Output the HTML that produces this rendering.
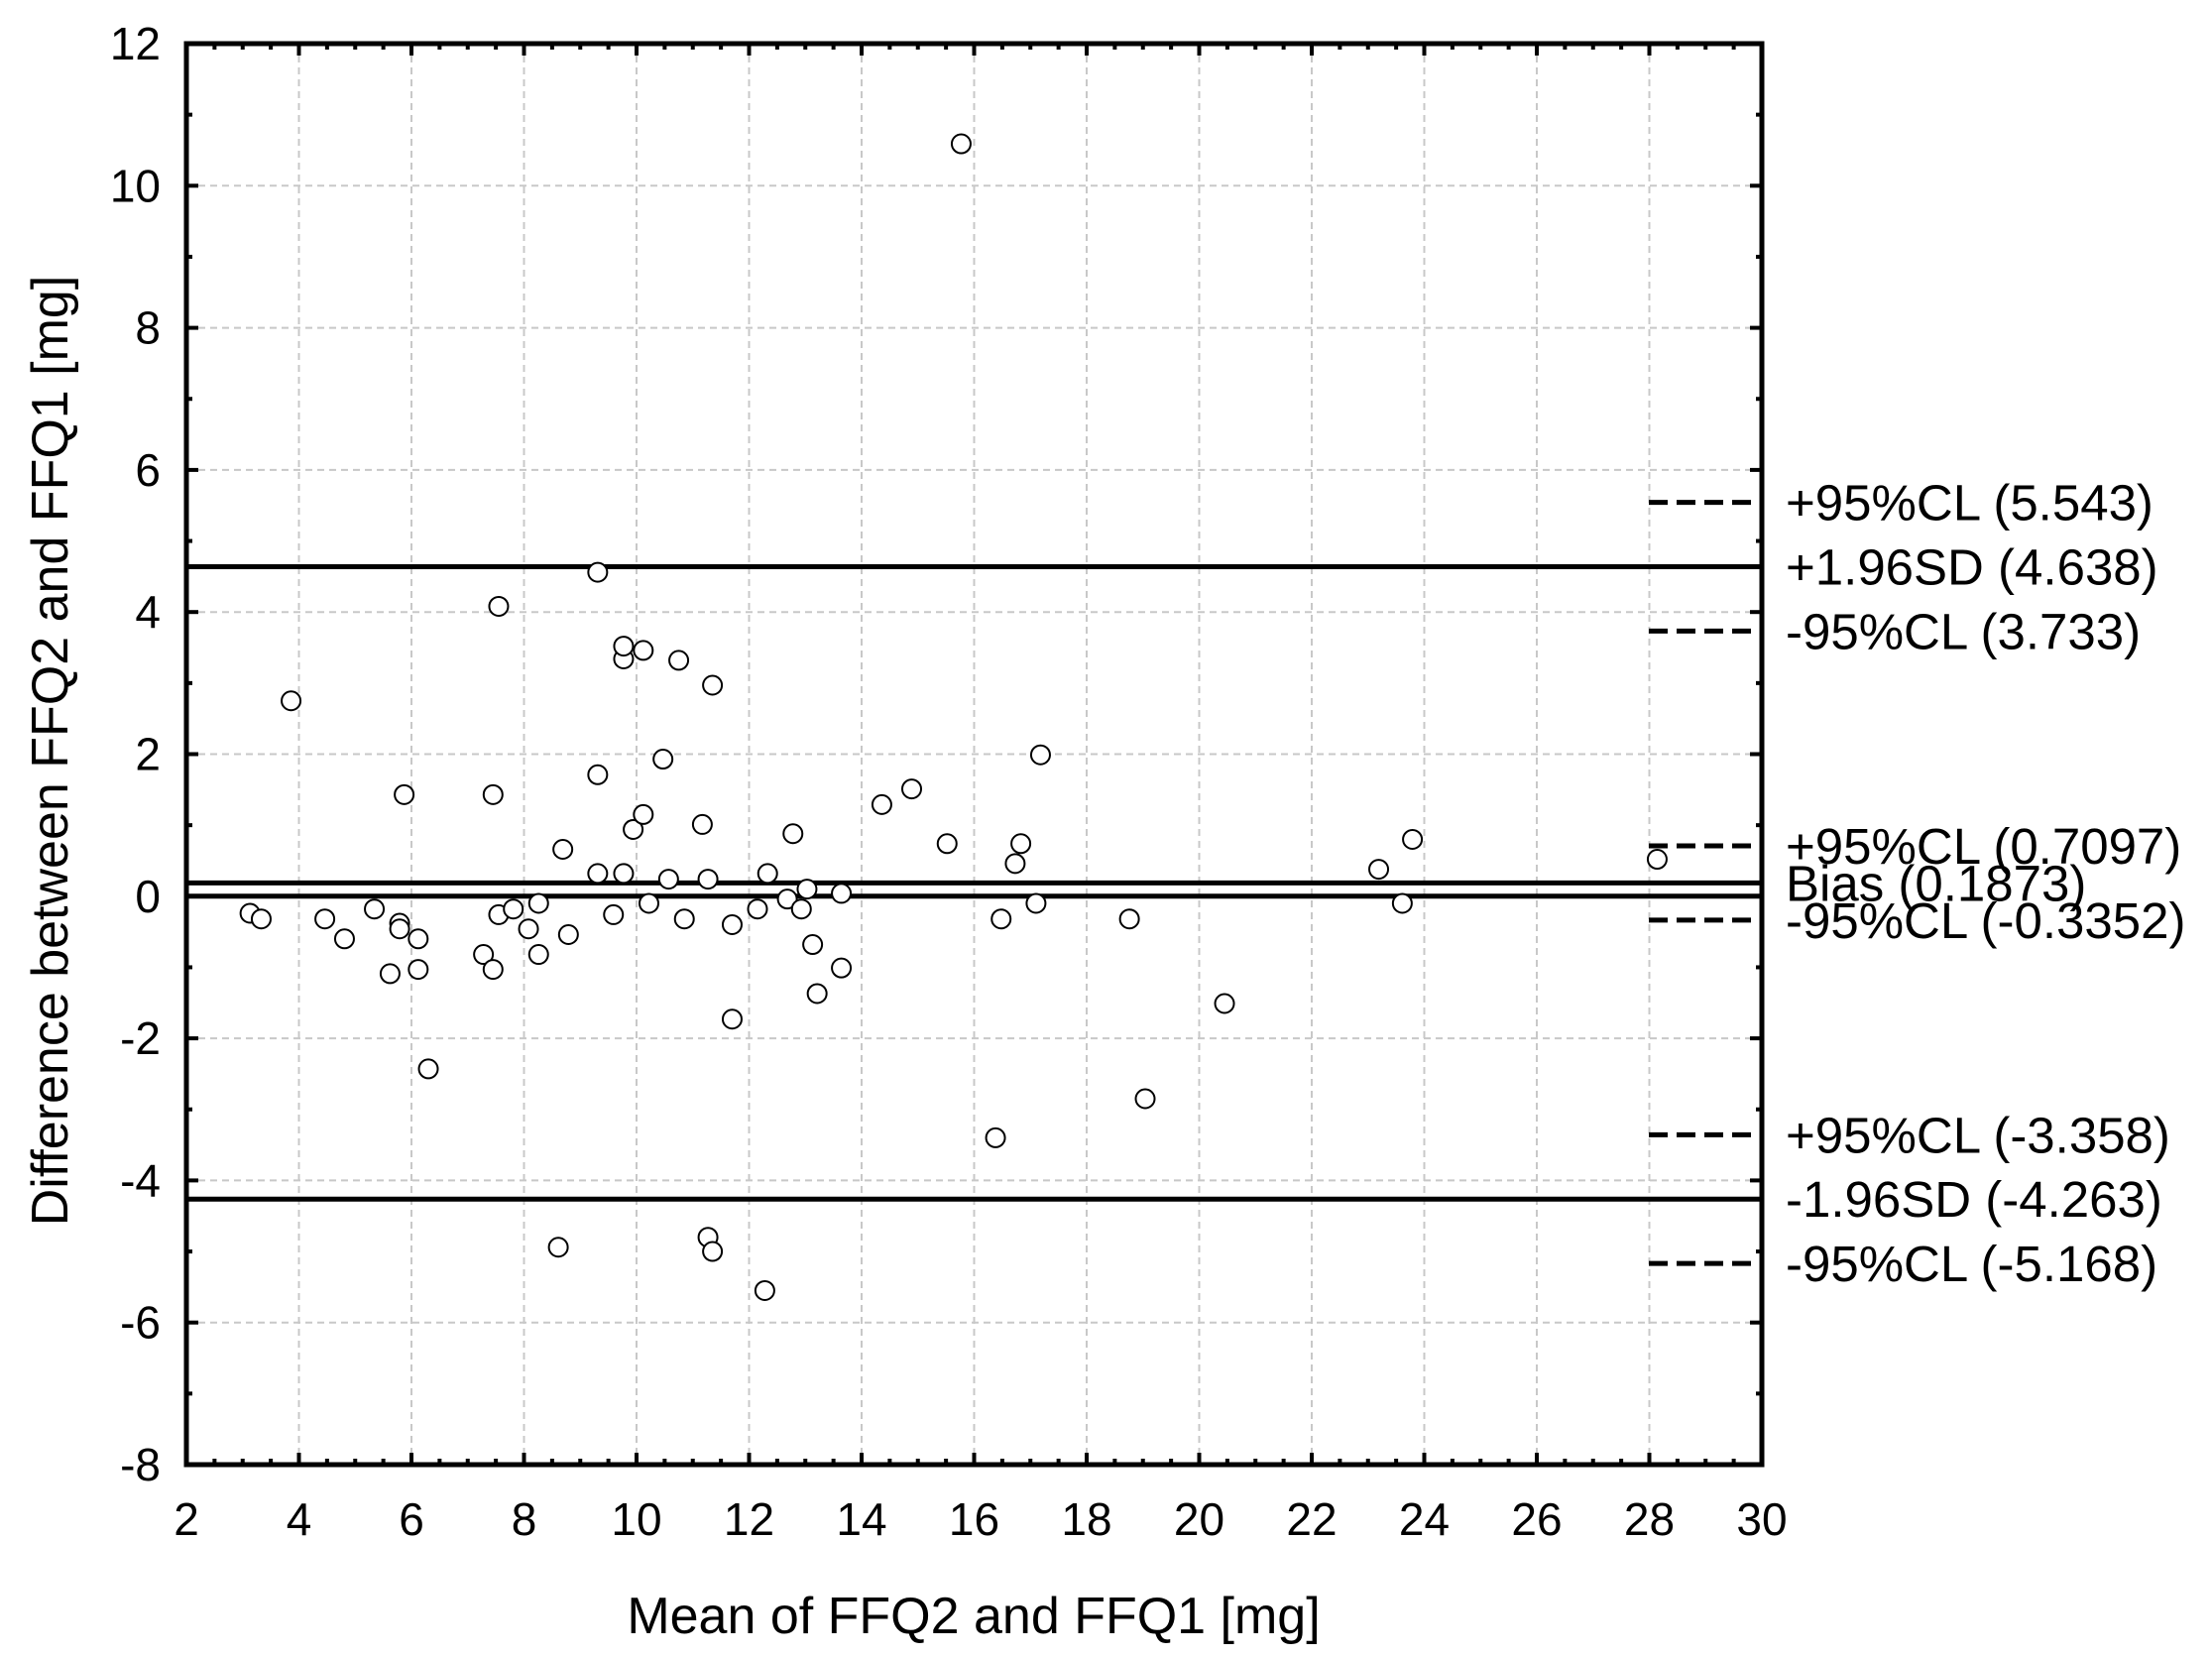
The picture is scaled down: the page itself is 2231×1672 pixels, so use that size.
<!DOCTYPE html>
<html><head><meta charset="utf-8"><style>
html,body{margin:0;padding:0;background:#fff;}
svg{display:block;font-family:"Liberation Sans",Arial,sans-serif;}
</style></head><body>
<svg id="chart" width="2231" height="1672" viewBox="0 0 2231 1672" xmlns="http://www.w3.org/2000/svg"></svg>
<script>
const xs = [3.13,3.33,3.86,4.46,4.81,5.34,5.62,5.79,5.79,5.87,6.12,6.12,6.30,7.28,7.45,7.45,7.55,7.55,7.81,8.08,8.26,8.26,8.61,8.69,8.79,9.31,9.31,9.31,9.59,9.77,9.77,9.77,9.94,10.12,10.12,10.22,10.47,10.57,10.75,10.85,11.17,11.27,11.27,11.35,11.35,11.70,11.70,12.15,12.28,12.33,12.68,12.78,12.93,13.03,13.13,13.21,13.64,13.64,14.36,14.89,15.52,15.77,16.38,16.48,16.73,16.83,17.10,17.18,18.76,19.04,20.45,23.19,23.61,23.79,28.14];
const ys = [-0.24,-0.32,2.75,-0.32,-0.60,-0.18,-1.09,-0.38,-0.46,1.43,-0.60,-1.03,-2.43,-0.82,1.43,-1.03,4.08,-0.26,-0.18,-0.46,-0.10,-0.82,-4.94,0.66,-0.54,4.56,1.71,0.32,-0.26,0.32,3.34,3.52,0.94,3.46,1.15,-0.10,1.93,0.24,3.32,-0.32,1.01,0.24,-4.80,2.97,-5.00,-0.40,-1.73,-0.18,-5.55,0.32,-0.04,0.88,-0.18,0.10,-0.68,-1.37,0.04,-1.01,1.29,1.51,0.74,10.59,-3.40,-0.32,0.46,0.74,-0.10,1.99,-0.32,-2.85,-1.51,0.38,-0.10,0.80,0.52];
const xTicks = [2,4,6,8,10,12,14,16,18,20,22,24,26,28,30];
const yTicks = [-8,-6,-4,-2,0,2,4,6,8,10,12];
const solidLines = [4.638, 0.1873, 0];
const solidNames = ['upper-limit-line','bias-line','zero-line'];
const dashedLines = [5.543, 3.733, 0.7097, -0.3352, -3.358, -5.168];
const annLabels = ['+95%CL (5.543)','+1.96SD (4.638)','-95%CL (3.733)','+95%CL (0.7097)','Bias (0.1873)','-95%CL (-0.3352)','+95%CL (-3.358)','-1.96SD (-4.263)','-95%CL (-5.168)'];
const annYs = [5.543,4.638,3.733,0.7097,0.1873,-0.3352,-3.358,-4.263,-5.168];
const lowerLimit = -4.263;

const L=188,R=1777,T=44,B=1477;
const sx=v=>L+(v-2)*(R-L)/28;
const sy=v=>T+(12-v)*(B-T)/20;
const svg=document.getElementById('chart');
const NS='http://www.w3.org/2000/svg';
function mk(tag,attrs){const e=document.createElementNS(NS,tag);for(const k in attrs)e.setAttribute(k,attrs[k]);svg.appendChild(e);return e;}

xTicks.forEach(v=>{if(v>2&&v<30){const g=mk('line',{x1:sx(v),x2:sx(v),y1:T,y2:B,stroke:'#c8c8c8','stroke-width':2,'stroke-dasharray':'7,5'});

}});
yTicks.forEach(v=>{if(v>-8&&v<12){const g=mk('line',{x1:L,x2:R,y1:sy(v),y2:sy(v),stroke:'#c8c8c8','stroke-width':2,'stroke-dasharray':'7,5'});

}});

for(let v=2;v<=30;v+=0.5){const len=(v%2===0)?12:6;
 const t1=mk('line',{x1:sx(v),x2:sx(v),y1:B,y2:B-len,stroke:'#000','stroke-width':4});
 
 
 const t2=mk('line',{x1:sx(v),x2:sx(v),y1:T,y2:T+len,stroke:'#000','stroke-width':4});
 
 }
for(let v=-8;v<=12;v+=1){const len=(v%2===0)?12:6;
 const t1=mk('line',{x1:L,x2:L+len,y1:sy(v),y2:sy(v),stroke:'#000','stroke-width':4});
 
 
 const t2=mk('line',{x1:R,x2:R-len,y1:sy(v),y2:sy(v),stroke:'#000','stroke-width':4});
 
 }

xTicks.forEach(v=>{const t=mk('text',{x:sx(v),y:1548,'font-size':46,'text-anchor':'middle'});t.textContent=v;

});
yTicks.forEach(v=>{const t=mk('text',{x:162,y:sy(v)+16,'font-size':46,'text-anchor':'end'});t.textContent=v;

});

solidLines.forEach((v,i)=>{const l=mk('line',{x1:L,x2:R,y1:sy(v),y2:sy(v),stroke:'#000','stroke-width':5});

});
{const l=mk('line',{x1:L,x2:R,y1:sy(lowerLimit),y2:sy(lowerLimit),stroke:'#000','stroke-width':5});

}
dashedLines.forEach(v=>{const l=mk('line',{x1:1663,x2:1772,y1:sy(v),y2:sy(v),stroke:'#000','stroke-width':5,'stroke-dasharray':'19,9'});

});

{const f=mk('rect',{x:L,y:T,width:R-L,height:B-T,fill:'none',stroke:'#000','stroke-width':5});

}

xs.forEach((x,i)=>{const c=mk('circle',{cx:sx(x),cy:sy(ys[i]),r:9.5,fill:'#fff',stroke:'#000','stroke-width':2});

});

annLabels.forEach((s,i)=>{const t=mk('text',{x:1801,y:sy(annYs[i])+18,'font-size':51,textLength:null});t.removeAttribute('textLength');t.textContent=s;

});

{const t=mk('text',{x:982,y:1647,'font-size':52,'text-anchor':'middle'});t.textContent='Mean of FFQ2 and FFQ1 [mg]';

}
{const t=mk('text',{x:0,y:0,'font-size':52,'text-anchor':'middle',transform:'translate(68,757) rotate(-90)'});t.textContent='Difference between FFQ2 and FFQ1 [mg]';

}
</script>
</body></html>
